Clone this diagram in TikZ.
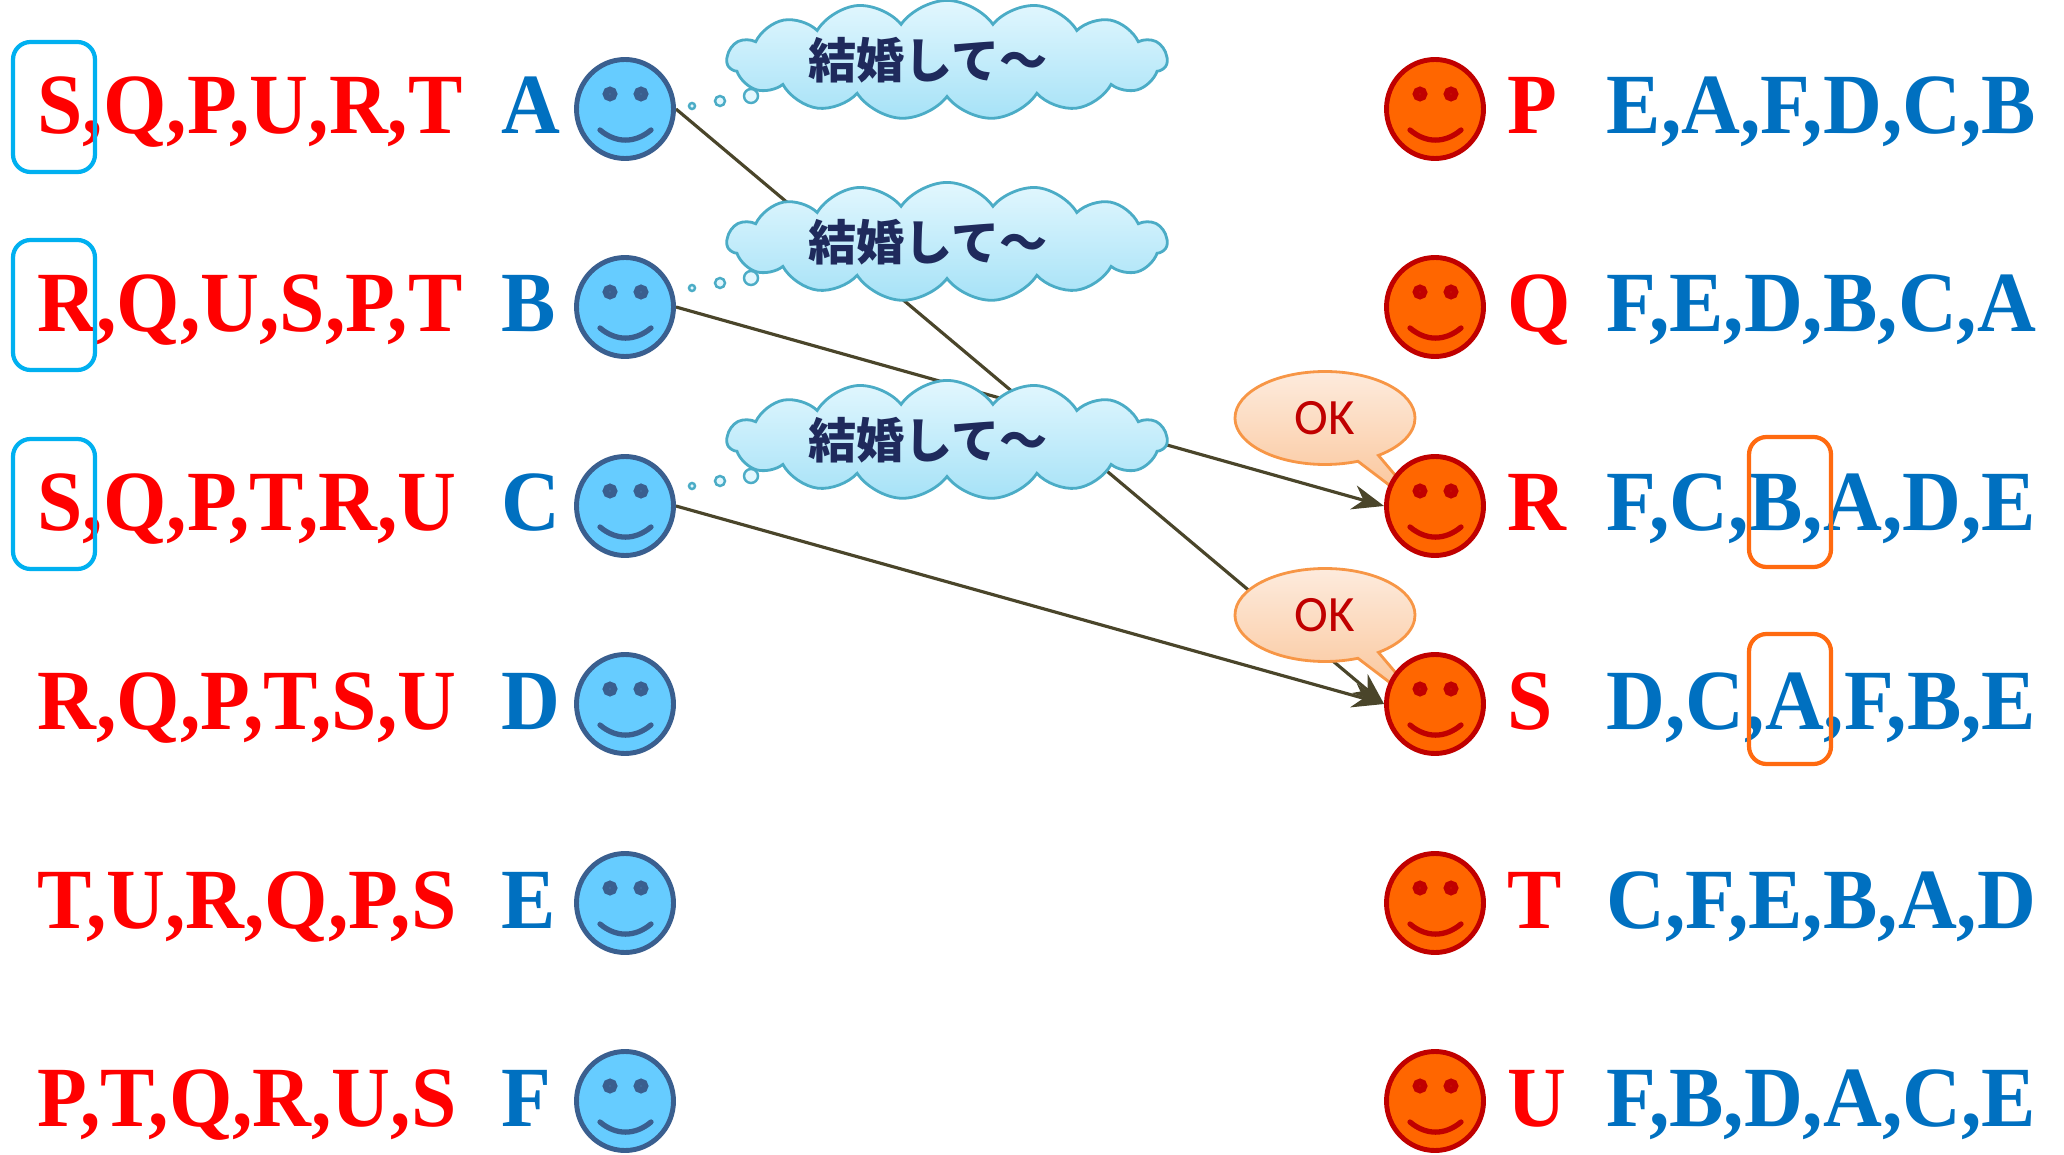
\documentclass[tikz,border=0pt]{standalone}
\usepackage{fontspec}
\usepackage{xcolor}
\usetikzlibrary{shapes.geometric, shapes.symbols, shapes.callouts, arrows.meta}
\newfontfamily\listfont[FakeStretch=0.95]{Liberation Serif}
\newfontfamily\cjkfont{Noto Sans CJK JP}
\newfontfamily\okfont{Carlito}
\definecolor{listred}{HTML}{FF0000}
\definecolor{listblue}{HTML}{0070C0}
\definecolor{boyfill}{HTML}{66CCFF}
\definecolor{boyline}{HTML}{3A5F8F}
\definecolor{girlfill}{HTML}{FF6600}
\definecolor{girlline}{HTML}{C00000}
\definecolor{cloudtop}{HTML}{E2F7FE}
\definecolor{cloudbot}{HTML}{A6E2F7}
\definecolor{cloudline}{HTML}{4BACC6}
\definecolor{cloudtext}{HTML}{1F2A5C}
\definecolor{oktop}{HTML}{FDEBDD}
\definecolor{okbot}{HTML}{FAC090}
\definecolor{okline}{HTML}{F79646}
\definecolor{okred}{HTML}{C00000}
\definecolor{pickblue}{HTML}{00B0F0}
\definecolor{pickorange}{HTML}{FF6A10}
\definecolor{lineolive}{HTML}{4A452A}
\pgfdeclarelayer{background}
\pgfsetlayers{background,main}
\tikzset{
    smile/.style={path picture={
        \draw[#1, line width=1.9pt] ([shift={(-0.15,0.15)}]path picture bounding box.center) circle (0.04);
        \draw[#1, line width=1.9pt] ([shift={(0.16,0.15)}]path picture bounding box.center) circle (0.04);
        \draw[#1, line width=1.5pt, line cap=round] ([shift={(-0.25,-0.21)}]path picture bounding box.center)
            .. controls ([shift={(-0.09,-0.345)}]path picture bounding box.center) and ([shift={(0.1,-0.345)}]path picture bounding box.center)
            .. ([shift={(0.26,-0.21)}]path picture bounding box.center);
    }},
    boy/.style={ellipse, draw=boyline, fill=boyfill, line width=1.4pt, minimum width=0.97cm, minimum height=0.99cm, inner sep=0pt, smile=boyline},
    girl/.style={ellipse, draw=girlline, fill=girlfill, line width=1.4pt, minimum width=0.97cm, minimum height=0.99cm, inner sep=0pt, smile=girlline},
    wishlist/.style={text=listred, font={\listfont\bfseries\fontsize{24.4pt}{28pt}\selectfont}, inner sep=0pt, anchor=base west},
    boyname/.style={wishlist, text=listblue},
    girlname/.style={wishlist, text=listred},
    pickbox/.style={rectangle, rounded corners=5pt, draw=pickblue, line width=1.2pt, minimum width=0.82cm, minimum height=1.30cm},
    markbox/.style={pickbox, draw=pickorange},
    askcloud/.style={cloud, cloud puffs=15, cloud puff arc=110, aspect=5,
        draw=cloudline, line width=0.8pt, top color=cloudtop, bottom color=cloudbot,
        minimum width=4.4cm, minimum height=0.78cm, inner sep=0pt,
        text=cloudtext, font={\cjkfont\bfseries\fontsize{13.7pt}{16pt}\selectfont}},
    dot/.style={draw=cloudline, line width=0.7pt, fill=cloudtop},
    okbubble/.style={ellipse callout, draw=okline, line width=0.8pt, top color=oktop, bottom color=okbot,
        minimum width=1.8cm, minimum height=0.93cm, inner sep=0pt,
        text=okred, font={\okfont\fontsize{14.5pt}{17pt}\selectfont}},
    wed/.style={-{Stealth[length=9pt,width=7pt]}, line width=0.9pt, draw=lineolive}
}
\begin{document}
\begin{tikzpicture}
    \useasboundingbox (0,0) rectangle (20.64,-11.55);

    % proposals (thought clouds)
    \node (askA) [askcloud] at (9.47,-0.60) {結婚して〜\hspace*{0.38cm}};
    \node (askB) [askcloud] at (9.47,-2.42) {結婚して〜\hspace*{0.38cm}};
    \node (askC) [askcloud] at (9.47,-4.40) {結婚して〜\hspace*{0.38cm}};
    \draw[dot] ([shift={(-2.55,-0.46)}]askA.center) circle (0.03) ([shift={(-2.27,-0.41)}]askA.center) circle (0.05) ([shift={(-1.96,-0.36)}]askA.center) circle (0.07);
    \draw[dot] ([shift={(-2.55,-0.46)}]askB.center) circle (0.03) ([shift={(-2.27,-0.41)}]askB.center) circle (0.05) ([shift={(-1.96,-0.36)}]askB.center) circle (0.07);
    \draw[dot] ([shift={(-2.55,-0.46)}]askC.center) circle (0.03) ([shift={(-2.27,-0.41)}]askC.center) circle (0.05) ([shift={(-1.96,-0.36)}]askC.center) circle (0.07);

    % answers
    \node (okR) [okbubble, callout relative pointer={(0.61,-0.57)}] at (13.25,-4.18) {OK};
    \node (okS) [okbubble, callout relative pointer={(0.61,-0.57)}] at (13.25,-6.15) {OK};

    % left side
    \node (A) [boy] at (6.25,-1.09) {};
    \node (B) [boy] at (6.25,-3.07) {};
    \node (C) [boy] at (6.25,-5.06) {};
    \node (D) [boy] at (6.25,-7.04) {};
    \node (E) [boy] at (6.25,-9.03) {};
    \node (F) [boy] at (6.25,-11.01) {};
    \node (nA) [boyname] at (5.01,-1.34) {A};
    \node (nB) [boyname] at (5.01,-3.32) {B};
    \node (nC) [boyname] at (5.01,-5.31) {C};
    \node (nD) [boyname] at (5.01,-7.29) {D};
    \node (nE) [boyname] at (5.01,-9.28) {E};
    \node (nF) [boyname] at (5.01,-11.26) {F};
    \node (listA) [wishlist] at (0.37,-1.34) {S,Q,P,U,R,T};
    \node (listB) [wishlist] at (0.37,-3.32) {R,Q,U,S,P,T};
    \node (listC) [wishlist] at (0.37,-5.31) {S,Q,P,T,R,U};
    \node (listD) [wishlist] at (0.37,-7.29) {R,Q,P,T,S,U};
    \node (listE) [wishlist] at (0.37,-9.28) {T,U,R,Q,P,S};
    \node (listF) [wishlist] at (0.37,-11.26) {P,T,Q,R,U,S};
    \node (topA) [pickbox] at (0.54,-1.07) {};
    \node (topB) [pickbox] at (0.54,-3.05) {};
    \node (topC) [pickbox] at (0.54,-5.04) {};

    % right side
    \node (P) [girl] at (14.35,-1.09) {};
    \node (Q) [girl] at (14.35,-3.07) {};
    \node (R) [girl] at (14.35,-5.06) {};
    \node (S) [girl] at (14.35,-7.04) {};
    \node (T) [girl] at (14.35,-9.03) {};
    \node (U) [girl] at (14.35,-11.01) {};
    \node (nP) [girlname] at (15.07,-1.34) {P};
    \node (nQ) [girlname] at (15.07,-3.32) {Q};
    \node (nR) [girlname] at (15.07,-5.31) {R};
    \node (nS) [girlname] at (15.07,-7.29) {S};
    \node (nT) [girlname] at (15.07,-9.28) {T};
    \node (nU) [girlname] at (15.07,-11.26) {U};
    \node (listP) [boyname] at (16.06,-1.34) {E,A,F,D,C,B};
    \node (listQ) [boyname] at (16.06,-3.32) {F,E,D,B,C,A};
    \node (listR) [boyname] at (16.06,-5.31) {F,C,B,A,D,E};
    \node (listS) [boyname] at (16.06,-7.29) {D,C,A,F,B,E};
    \node (listT) [boyname] at (16.06,-9.28) {C,F,E,B,A,D};
    \node (listU) [boyname] at (16.06,-11.26) {F,B,D,A,C,E};
    \node (markR) [markbox] at (17.90,-5.02) {};
    \node (markS) [markbox] at (17.90,-6.99) {};

    % proposals
    \begin{pgfonlayer}{background}
        \draw[wed] (A.east) -- (S.west);
        \draw[wed] (B.east) -- (R.west);
        \draw[wed] (C.east) -- (S.west);
    \end{pgfonlayer}
\end{tikzpicture}
\end{document}
